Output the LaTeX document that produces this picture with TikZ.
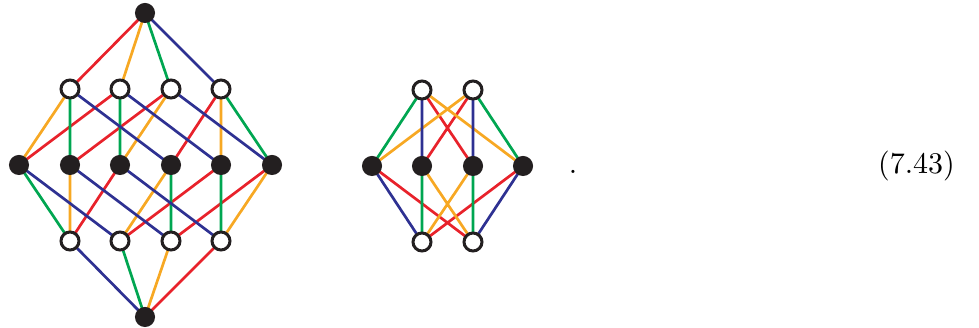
\documentclass[tikz,border=0pt]{standalone}
\usepackage{amsmath}

\definecolor{ered}{HTML}{E8222B}
\definecolor{eorange}{HTML}{F7A823}
\definecolor{egreen}{HTML}{00A651}
\definecolor{eblue}{HTML}{2E3192}
\definecolor{ink}{HTML}{231F20}

\begin{document}
\begin{tikzpicture}[x=0.3333pt, y=-0.3333pt,
    edge/.style={line width=0.9pt},
    blk/.style={circle, fill=ink, inner sep=0pt, minimum size=6.7pt},
    wht/.style={circle, draw=ink, fill=white, line width=1pt, inner sep=0pt, minimum size=6pt}]
  \useasboundingbox (0, 0) rectangle (979, 328);

  % left graph
  \coordinate (T) at (145, 13);
  \coordinate (U1) at (70, 89);
  \coordinate (U2) at (120, 89);
  \coordinate (U3) at (171, 89);
  \coordinate (U4) at (221, 89);
  \coordinate (M1) at (19, 165);
  \coordinate (M2) at (70, 165);
  \coordinate (M3) at (120, 165);
  \coordinate (M4) at (171, 165);
  \coordinate (M5) at (221, 165);
  \coordinate (M6) at (272, 165);
  \coordinate (L1) at (70, 241);
  \coordinate (L2) at (120, 241);
  \coordinate (L3) at (171, 241);
  \coordinate (L4) at (221, 241);
  \coordinate (B) at (145, 317);

  \draw[edge, ered] (T) -- (U1) (U2) -- (M1) (U3) -- (M2) (U4) -- (M4)
    (M3) -- (L1) (M5) -- (L2) (M6) -- (L3) (L4) -- (B);
  \draw[edge, eorange] (T) -- (U2) (U1) -- (M1) (U3) -- (M3) (U4) -- (M5)
    (M2) -- (L1) (M4) -- (L2) (M6) -- (L4) (L3) -- (B);
  \draw[edge, egreen] (T) -- (U3) (U1) -- (M2) (U2) -- (M3) (U4) -- (M6)
    (M1) -- (L1) (M4) -- (L3) (M5) -- (L4) (L2) -- (B);
  \draw[edge, eblue] (T) -- (U4) (U1) -- (M4) (U2) -- (M5) (U3) -- (M6)
    (M1) -- (L2) (M2) -- (L3) (M3) -- (L4) (L1) -- (B);

  \node[blk] at (T) {};
  \node[blk] at (B) {};
  \node[blk] at (M1) {};
  \node[blk] at (M2) {};
  \node[blk] at (M3) {};
  \node[blk] at (M4) {};
  \node[blk] at (M5) {};
  \node[blk] at (M6) {};
  \node[wht] at (U1) {};
  \node[wht] at (U2) {};
  \node[wht] at (U3) {};
  \node[wht] at (U4) {};
  \node[wht] at (L1) {};
  \node[wht] at (L2) {};
  \node[wht] at (L3) {};
  \node[wht] at (L4) {};

  % right graph
  \coordinate (P1) at (422, 90);
  \coordinate (P2) at (473, 90);
  \coordinate (Q1) at (372, 166);
  \coordinate (Q2) at (422, 166);
  \coordinate (Q3) at (473, 166);
  \coordinate (Q4) at (523, 166);
  \coordinate (R1) at (422, 242);
  \coordinate (R2) at (473, 242);

  \draw[edge, ered] (P1) -- (Q3) (P2) -- (Q2) (Q1) -- (R2) (Q4) -- (R1);
  \draw[edge, eorange] (P1) -- (Q4) (P2) -- (Q1) (Q2) -- (R2) (Q3) -- (R1);
  \draw[edge, egreen] (P1) -- (Q1) (P2) -- (Q4) (Q2) -- (R1) (Q3) -- (R2);
  \draw[edge, eblue] (P1) -- (Q2) (P2) -- (Q3) (Q1) -- (R1) (Q4) -- (R2);

  \node[blk] at (Q1) {};
  \node[blk] at (Q2) {};
  \node[blk] at (Q3) {};
  \node[blk] at (Q4) {};
  \node[wht] at (P1) {};
  \node[wht] at (P2) {};
  \node[wht] at (R1) {};
  \node[wht] at (R2) {};

  \node[anchor=base, inner sep=0pt] (dot) at (573, 174) {.};
  \node[anchor=base, inner sep=0pt] (eqno) at (916.5, 174) {(7.43)};
\end{tikzpicture}
\end{document}
